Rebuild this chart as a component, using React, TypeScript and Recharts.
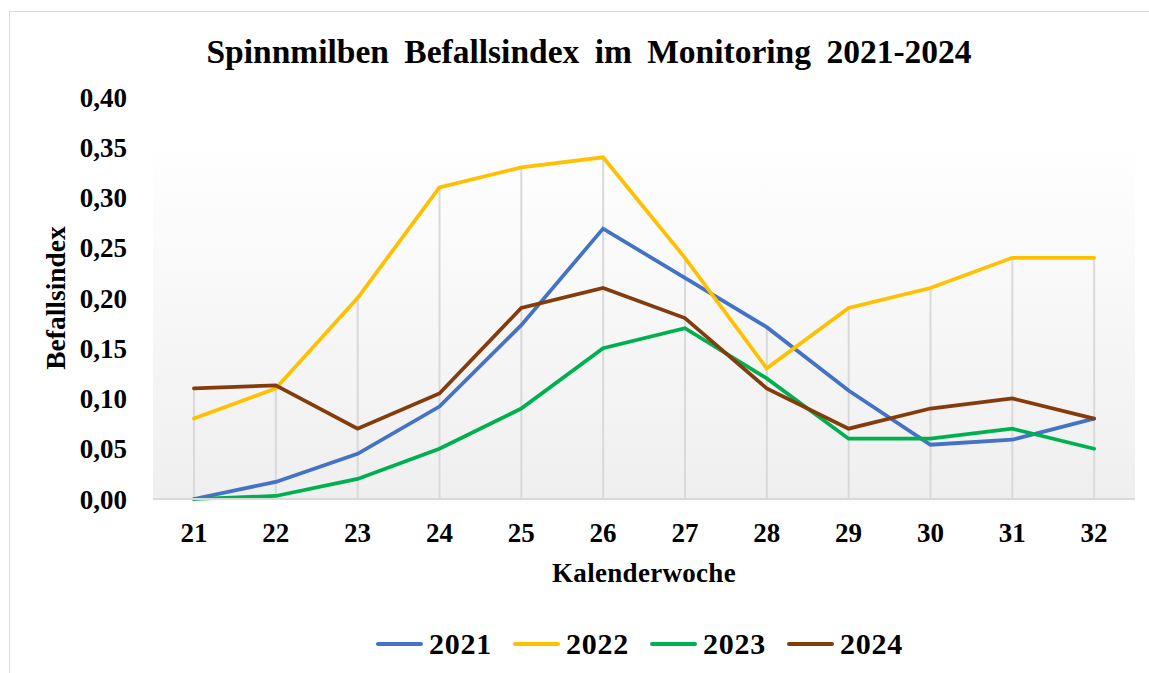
import { ComposedChart, Line, Bar, XAxis, YAxis, CartesianGrid, Legend, Label } from 'recharts'

// Kalenderwochen and Befallsindex per year
const weeks = ['21', '22', '23', '24', '25', '26', '27', '28', '29', '30', '31', '32']
const idx2021 = [0, 0.017, 0.045, 0.092, 0.173, 0.269, 0.22, 0.171, 0.108, 0.054, 0.059, 0.08]
const idx2022 = [0.08, 0.11, 0.2, 0.31, 0.33, 0.34, 0.24, 0.13, 0.19, 0.21, 0.24, 0.24]
const idx2023 = [0, 0.003, 0.02, 0.05, 0.09, 0.15, 0.17, 0.12, 0.06, 0.06, 0.07, 0.05]
const idx2024 = [0.11, 0.113, 0.07, 0.105, 0.19, 0.21, 0.18, 0.11, 0.07, 0.09, 0.1, 0.08]
const yTicks = [0, 0.05, 0.1, 0.15, 0.2, 0.25, 0.3, 0.35, 0.4]

const series = [
  { key: 'y2021', name: '2021', color: '#4472C4', values: idx2021 },
  { key: 'y2022', name: '2022', color: '#FFC000', values: idx2022 },
  { key: 'y2023', name: '2023', color: '#00B050', values: idx2023 },
  { key: 'y2024', name: '2024', color: '#843C0C', values: idx2024 },
]

// drop lines run from the highest value of each week down to the axis
const data = weeks.map((week, i) => {
  const row: Record<string, string | number> = { week }
  series.forEach((s) => {
    row[s.key] = s.values[i]
  })
  row.drop = Math.max(...series.map((s) => s.values[i]))
  return row
})

const FONT = "'Liberation Serif', 'Times New Roman', serif"
const fmt = (v: number) => v.toFixed(2).replace('.', ',')

function LegendContent({ payload }: any) {
  const items = (payload ?? []).filter((p: any) => p.dataKey !== 'drop')
  return (
    <div style={{ display: 'flex', alignItems: 'center', fontFamily: FONT, fontWeight: 'bold' }}>
      {items.map((p: any) => (
        <div key={p.value} style={{ display: 'flex', alignItems: 'center', marginRight: 21 }}>
          <div style={{ width: 47, height: 4.5, borderRadius: 2.5, background: p.color, marginRight: 6 }} />
          <span style={{ fontSize: 30, lineHeight: '30px', letterSpacing: 0.75, color: '#000' }}>
            {p.value}
          </span>
        </div>
      ))}
    </div>
  )
}

export default function App() {
  return (
    <div
      style={{
        position: 'absolute',
        left: 0,
        top: 0,
        width: 1149,
        height: 673,
        overflow: 'hidden',
        background: '#fff',
      }}
    >
      <div
        style={{
          position: 'absolute',
          left: 9,
          top: 11,
          width: 1200,
          height: 700,
          border: '1.5px solid #d9d9d9',
        }}
      />
      <div
        style={{
          position: 'absolute',
          left: 0,
          top: 35,
          width: 1178,
          textAlign: 'center',
          fontFamily: FONT,
          fontWeight: 'bold',
          fontSize: 33.5,
          lineHeight: '33.5px',
          wordSpacing: 7,
          whiteSpace: 'pre',
        }}
      >
        Spinnmilben Befallsindex im Monitoring 2021-2024
      </div>
      <div style={{ position: 'absolute', left: 0, top: 0 }}>
        <ComposedChart
          width={1149}
          height={673}
          data={data}
          margin={{ top: 97, right: 14, bottom: 114, left: 93 }}
        >
          <defs>
            <linearGradient id="plotBg" x1="0" y1="0" x2="0" y2="1">
              <stop offset="0%" stopColor="#ffffff" />
              <stop offset="10%" stopColor="#ffffff" />
              <stop offset="100%" stopColor="#efefef" />
            </linearGradient>
          </defs>
          <CartesianGrid horizontal={false} vertical={false} fill="url(#plotBg)" />
          <XAxis
            dataKey="week"
            height={60}
            axisLine={{ stroke: '#d9d9d9', strokeWidth: 2 }}
            tickLine={false}
            tickSize={0}
            tickMargin={24}
            tick={{ fill: '#000', fontSize: 27, fontWeight: 'bold', fontFamily: FONT }}
            interval={0}
          >
            <Label
              value="Kalenderwoche"
              position="bottom"
              offset={4}
              style={{ fill: '#000', fontSize: 27, letterSpacing: 0.3, fontWeight: 'bold', fontFamily: FONT }}
            />
          </XAxis>
          <YAxis
            width={60}
            domain={[0, 0.4]}
            ticks={yTicks}
            tickFormatter={fmt}
            axisLine={false}
            tickLine={false}
            tickSize={0}
            tickMargin={26}
            tick={{ fill: '#000', fontSize: 27, fontWeight: 'bold', fontFamily: FONT }}
          >
            <Label
              content={({ viewBox }: any) => {
                const x = viewBox.x - 28
                const y = viewBox.y + viewBox.height / 2
                return (
                  <text
                    x={x}
                    y={y}
                    transform={`rotate(-90 ${x} ${y})`}
                    textAnchor="middle"
                    fill="#000"
                    fontSize={27.5}
                    fontWeight="bold"
                    fontFamily={FONT}
                  >
                    Befallsindex
                  </text>
                )
              }}
            />
          </YAxis>
          <Bar dataKey="drop" barSize={2} fill="#d9d9d9" isAnimationActive={false} legendType="none" />
          {series.map((s) => (
            <Line
              key={s.key}
              type="linear"
              dataKey={s.key}
              name={s.name}
              stroke={s.color}
              strokeWidth={3.75}
              strokeLinecap="round"
              dot={false}
              activeDot={false}
              isAnimationActive={false}
            />
          ))}
          <Legend
            layout="horizontal"
            verticalAlign="middle"
            align="center"
            content={<LegendContent />}
            wrapperStyle={{ top: 629, left: 376, width: 700, height: 30 }}
          />
        </ComposedChart>
      </div>
    </div>
  )
}
